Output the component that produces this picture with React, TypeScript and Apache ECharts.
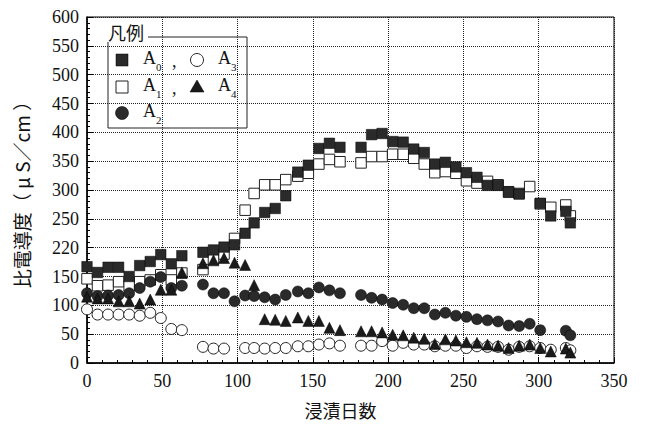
import React, { useEffect, useRef } from "react";
import * as echarts from "echarts";

// 浸漬日数 (days)
const days = [0, 7, 14, 21, 28, 35, 42, 49, 56, 63, 77, 84, 91, 98, 105, 111, 118, 125, 132, 140, 147, 154, 161, 168, 182, 189, 196, 203, 210, 217, 224, 231, 238, 245, 252, 259, 266, 273, 280, 287, 294, 301, 308, 318, 321];

const a0 = [167, 157, 166, 166, 150, 169, 176, 188, 172, 186, 192, 196, 201, 205, 225, 243, 261, 268, 290, 331, 343, 372, 381, 374, 374, 396, 398, 384, 383, 371, 365, 345, 348, 340, 330, 322, 308, 308, 296, 293, null, 277, 255, 263, 243];
const a1 = [146, 134, 135, 141, 134, 141, 144, 153, 144, 156, 162, 180, 189, 216, 265, 294, 309, 309, 318, 324, 329, 345, 353, 349, 347, 358, 358, 362, 362, 355, 345, 330, 332, 329, 316, 312, 315, 309, 297, 294, 306, 276, 270, 274, 255];
const a2 = [121, 116, 117, 118, 121, 130, 141, 149, 130, 134, 136, 121, 121, 107, 117, 116, 114, 110, 118, 124, 121, 131, 126, 121, 118, 113, 110, 104, 101, 95, 95, 84, 87, 82, 80, 76, 74, 72, 65, 64, 68, 57, null, 56, 48];
const a3 = [93, 84, 84, 84, 84, 82, 87, 78, 59, 57, 28, 25, 25, null, 26, 26, 25, 26, 26, 29, 29, 32, 34, 30, 30, 30, 38, 30, 35, 32, 32, 29, 30, 30, 26, 29, 28, 28, 23, 28, 29, 26, 23, 26, 22];
const a4 = [115, 112, 112, 107, 107, 103, 110, 127, 127, 157, 173, 178, 182, 174, 170, 135, 76, 75, 73, 79, 73, 73, 61, 57, 55, 55, 53, 49, 48, 44, 42, 33, 41, 39, 36, 35, 32, 30, 26, 30, 32, 26, 20, 25, 18];

const yTickLabels = ["0", "50", "100", "150", "220", "250", "300", "350", "400", "450", "500", "550", "600"];
const xTickLabels = ["0", "50", "100", "150", "200", "250", "300", "350"];

const SERIF = "'Liberation Serif', 'DejaVu Serif', serif";
const CJK = "'Noto Sans CJK JP', 'Noto Sans CJK SC', sans-serif";

const pairs = (vals: (number | null)[]) =>
  days.map((d, i) => (vals[i] == null ? null : [d, vals[i]])).filter((p) => p !== null);

export default function App() {
  const ref = useRef<HTMLDivElement>(null);
  useEffect(() => {
    if (!ref.current) return;
    const chart = echarts.init(ref.current, null, { renderer: "svg" });
    const dark = "#2a2a2a";
    const legendText = (x: number, y: number, main: string, sub: string) => [
      { type: "text", left: x, top: y - 11, style: { text: main, font: `18px ${SERIF}`, fill: "#111" } },
      { type: "text", left: x + 13, top: y + 1, style: { text: sub, font: `11px ${SERIF}`, fill: "#111" } },
    ];
    chart.setOption({
      animation: false,
      backgroundColor: "#fff",
      grid: { left: 87, right: 31, top: 17, bottom: 66, show: true, borderColor: "#000", borderWidth: 1 },
      xAxis: {
        type: "value",
        min: 0,
        max: 350,
        interval: 50,
        name: "浸漬日数",
        nameLocation: "middle",
        nameGap: 38,
        nameTextStyle: { fontFamily: CJK, fontSize: 18, color: "#111", padding: [0, 20, 0, 0] },
        axisLine: { lineStyle: { color: "#000", width: 1.5 } },
        axisTick: { inside: true, length: 6, lineStyle: { color: "#000" } },
        minorTick: { show: true, splitNumber: 5, length: 3, lineStyle: { color: "#000" } },
        axisLabel: {
          fontFamily: SERIF,
          fontSize: 18,
          color: "#111",
          margin: 9,
          formatter: (v: number) => xTickLabels[Math.round(v / 50)] ?? "",
        },
        splitLine: { show: true, lineStyle: { type: "dotted", color: "#222", width: 1 } },
      },
      yAxis: {
        type: "value",
        min: 0,
        max: 600,
        interval: 50,
        name: "比電導度（ μ S／cm ）",
        nameLocation: "middle",
        nameRotate: 90,
        nameGap: 56,
        nameTextStyle: { fontFamily: CJK, fontSize: 19, color: "#111" },
        axisLine: { show: true, lineStyle: { color: "#000", width: 1.5 } },
        axisTick: { show: true, inside: true, length: 6, lineStyle: { color: "#000" } },
        minorTick: { show: true, splitNumber: 5, length: 3, lineStyle: { color: "#000" } },
        axisLabel: {
          fontFamily: SERIF,
          fontSize: 18,
          color: "#111",
          margin: 8,
          formatter: (v: number) => yTickLabels[Math.round(v / 50)] ?? "",
        },
        splitLine: { show: true, lineStyle: { type: "dotted", color: "#222", width: 1 } },
      },
      series: [
        {
          name: "A1",
          type: "scatter",
          data: pairs(a1),
          symbol: "rect",
          symbolSize: 10.5,
          itemStyle: { color: "#fff", borderColor: "#222", borderWidth: 1, opacity: 1 },
        },
        {
          name: "A0",
          type: "scatter",
          data: pairs(a0),
          symbol: "rect",
          symbolSize: 10.5,
          itemStyle: { color: dark, borderColor: "#000", borderWidth: 0.5, opacity: 1 },
        },
        {
          name: "A2",
          type: "scatter",
          data: pairs(a2),
          symbol: "circle",
          symbolSize: 11,
          itemStyle: { color: dark, borderColor: "#000", borderWidth: 0.5, opacity: 1 },
        },
        {
          name: "A3",
          type: "scatter",
          data: pairs(a3),
          symbol: "circle",
          symbolSize: 11,
          itemStyle: { color: "#fff", borderColor: "#222", borderWidth: 1, opacity: 1 },
        },
        {
          name: "A4",
          type: "scatter",
          data: pairs(a4),
          symbol: "triangle",
          symbolSize: 11,
          itemStyle: { color: "#1a1a1a", borderColor: "#000", borderWidth: 0.5, opacity: 1 },
        },
      ],
      graphic: [
        {
          type: "polyline",
          shape: { points: [[148, 37], [247, 37], [247, 128], [108, 128], [108, 42]] },
          style: { stroke: "#222", lineWidth: 1, fill: null },
        },
        { type: "text", left: 108, top: 23, style: { text: "凡例", font: `18px ${CJK}`, fill: "#111" } },
        { type: "rect", shape: { x: 116, y: 54, width: 12, height: 12 }, style: { fill: dark, stroke: "#000", lineWidth: 0.5 } },
        ...legendText(143, 60, "A", "0"),
        { type: "text", left: 172, top: 52, style: { text: ",", font: `18px ${SERIF}`, fill: "#111" } },
        { type: "circle", shape: { cx: 197, cy: 60, r: 6.5 }, style: { fill: "#fff", stroke: "#222", lineWidth: 1 } },
        ...legendText(218, 60, "A", "3"),
        { type: "rect", shape: { x: 116, y: 81, width: 12, height: 12 }, style: { fill: "#fff", stroke: "#222", lineWidth: 1 } },
        ...legendText(143, 87, "A", "1"),
        { type: "text", left: 172, top: 79, style: { text: ",", font: `18px ${SERIF}`, fill: "#111" } },
        { type: "polygon", shape: { points: [[197, 80], [204, 92], [190, 92]] }, style: { fill: "#1a1a1a", stroke: "#000", lineWidth: 0.5 } },
        ...legendText(218, 87, "A", "4"),
        { type: "circle", shape: { cx: 122, cy: 113, r: 6.5 }, style: { fill: dark, stroke: "#000", lineWidth: 0.5 } },
        ...legendText(143, 113, "A", "2"),
      ],
    });
    return () => chart.dispose();
  }, []);
  return <div ref={ref} style={{ position: "absolute", left: 0, top: 0, width: 645, height: 429 }} />;
}
